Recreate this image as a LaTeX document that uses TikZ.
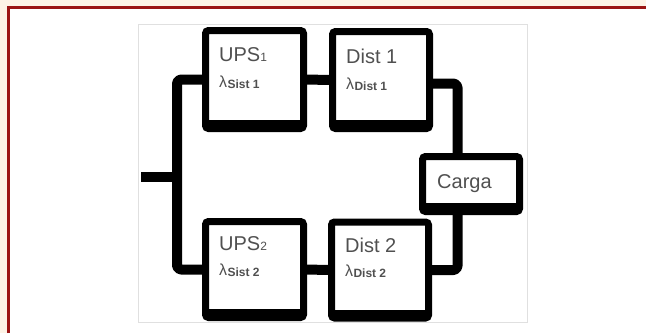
\documentclass[tikz,border=0pt]{standalone}
\usepackage{fontspec}
\setmainfont{Liberation Sans}
\definecolor{cream}{RGB}{253,243,230}
\definecolor{framered}{RGB}{155,20,20}
\definecolor{txt}{RGB}{80,80,80}
\pgfdeclarelayer{back}
\pgfdeclarelayer{wires}
\pgfsetlayers{back,wires,main}
\tikzset{
  blk/.style={draw=black, fill=white, line width=7pt, rounded corners=3pt, outer sep=0pt, inner sep=0pt},
  wire/.style={line width=10pt, line join=round, rounded corners=4pt},
  lbl/.style={anchor=base west, inner sep=0pt, text=txt, font=\fontsize{20}{20}\selectfont},
  lam/.style={anchor=base west, inner sep=0pt, text=txt, font=\fontsize{16}{16}\selectfont},
}
\newcommand{\subs}[1]{\kern0.3pt\raisebox{-1pt}{\fontsize{12}{12}\selectfont\bfseries #1}}
\newcommand{\idx}[1]{{\fontsize{12}{12}\selectfont #1}}
\begin{document}
\begin{tikzpicture}[x=1pt,y=-1pt]
\useasboundingbox (0,0) rectangle (646,333);
\begin{pgfonlayer}{back}
\fill[cream] (0,0) rectangle (646,333);
\fill[white] (7,6) rectangle (646,333);
\draw[framered, line width=3.3pt] (8.6,333) -- (8.6,7.6) -- (646,7.6);
\draw[black!12, line width=0.8pt] (138.5,24.5) rectangle (527,322);
\end{pgfonlayer}
% boxes
\node[blk, minimum width=98pt, minimum height=98pt] (ups1) at (254.5,79.5) {};
\node[blk, minimum width=97pt, minimum height=97pt] (dist1) at (381,80) {};
\node[blk, minimum width=98pt, minimum height=96pt] (ups2) at (254.5,269.5) {};
\node[blk, minimum width=97pt, minimum height=96pt] (dist2) at (380,270) {};
\node[blk, minimum width=97pt, minimum height=55pt] (carga) at (471,184) {};
% bottom shadow bars
\foreach \n in {ups1,dist1,ups2,dist2,carga}{
  \fill[black] ([xshift=3.5pt]\n.south west) rectangle ([xshift=-3.5pt,yshift=8.5pt]\n.south east);
}
% connectors
\coordinate (in) at (141,177);
\coordinate (bus) at (177,177);
\begin{pgfonlayer}{wires}
\draw[wire] (ups1.west) -| (bus) |- (ups2.west);
\draw[wire] (in) -- (bus);
\draw[wire] (ups1.east) -- (dist1.west);
\draw[wire] (ups2.east) -- (dist2.west);
\draw[wire] ([yshift=-3.5pt]dist1.east) -| ([xshift=-13.5pt]carga.north);
\draw[wire] ([xshift=-13.5pt]carga.south) |- (dist2.east);
\end{pgfonlayer}
% labels
\node[lbl] (t1) at (219,61) {UPS\idx{1}};
\node[lam] (l1) at (219,87) {λ\subs{Sist 1}};
\node[lbl] (t2) at (346,63) {Dist 1};
\node[lam] (l2) at (346,89) {λ\subs{Dist 1}};
\node[lbl] (t3) at (219,250) {UPS\idx{2}};
\node[lam] (l3) at (219,275) {λ\subs{Sist 2}};
\node[lbl] (t4) at (345,252) {Dist 2};
\node[lam] (l4) at (345,276) {λ\subs{Dist 2}};
\node[lbl] (t5) at (437,188) {Carga};
\end{tikzpicture}
\end{document}
